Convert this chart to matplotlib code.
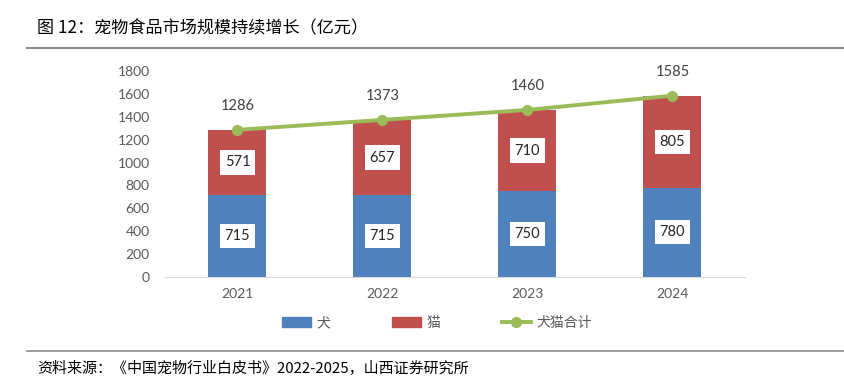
import matplotlib
matplotlib.use("Agg")
import matplotlib.pyplot as plt
from matplotlib.lines import Line2D
from matplotlib.patches import Patch

plt.rcParams['font.family'] = ['Noto Sans CJK SC', 'DejaVu Sans']

years = ['2021', '2022', '2023', '2024']
dog = [715, 715, 750, 780]
cat = [571, 657, 710, 805]
total = [1286, 1373, 1460, 1585]
yticks = [0, 200, 400, 600, 800, 1000, 1200, 1400, 1600, 1800]

blue = '#4F81BD'
red = '#C0504D'
green = '#9BBB59'
tickc = '#595959'
numfont = ['Lato', 'DejaVu Sans']

fig = plt.figure(figsize=(8.45, 3.89), dpi=100)
ax = fig.add_axes([165/845, 1-277/389, 580/845, (277-71)/389])

x = list(range(len(years)))
ax.bar(x, dog, width=0.4, color=blue, zorder=2)
ax.bar(x, cat, width=0.4, bottom=dog, color=red, zorder=2)
ax.plot(x, total, color=green, lw=2.8, marker='o', ms=7, zorder=3)

for i in x:
    ax.text(i, dog[i]/2, str(dog[i]), ha='center', va='center', fontsize=10.5, color='#262626',
            family=numfont,
            bbox=dict(boxstyle='square,pad=0.35', fc='white', ec='none'), zorder=4)
    ax.text(i, dog[i] + cat[i]/2, str(cat[i]), ha='center', va='center', fontsize=10.5, color='#262626',
            family=numfont,
            bbox=dict(boxstyle='square,pad=0.35', fc='white', ec='none'), zorder=4)
    ax.annotate(str(total[i]), (i, total[i]), xytext=(0, 12), textcoords='offset points',
                ha='center', va='bottom', fontsize=10.5, color='#404040', family=numfont)

ax.set_xlim(-0.5, 3.5)
ax.set_ylim(0, 1800)
ax.set_yticks(yticks)
ax.set_xticks(x)
ax.set_xticklabels(years)
ax.tick_params(axis='both', length=0, labelsize=10, colors=tickc)
for lab in ax.get_xticklabels() + ax.get_yticklabels():
    lab.set_family(numfont)
ax.tick_params(axis='y', pad=11)
ax.tick_params(axis='x', pad=8)
for s in ['top', 'right', 'left']:
    ax.spines[s].set_visible(False)
ax.spines['bottom'].set_color('#D9D9D9')

handles = [Patch(color=blue, label='犬'), Patch(color=red, label='猫'),
           Line2D([0], [0], color=green, lw=2.8, marker='o', ms=7, label='犬猫合计')]
fig.legend(handles=handles, loc='center', bbox_to_anchor=(437/845, 1-323/389), ncol=3,
           frameon=False, fontsize=10, handlelength=2.1, columnspacing=4.4,
           handletextpad=0.4, labelcolor='#595959')

fig.text(37/845, 1-28/389, '图 12：宠物食品市场规模持续增长（亿元）', fontsize=12.3,
         ha='left', va='center', color='black')
fig.add_artist(Line2D([27/845, 1], [1-48/389, 1-48/389], color='#8C8C8C', lw=1.5))
fig.add_artist(Line2D([27/845, 1], [1-351/389, 1-351/389], color='#8C8C8C', lw=1.2))
fig.text(37/845, 1-369/389, '资料来源：《中国宠物行业白皮书》2022-2025，山西证券研究所', fontsize=10.8,
         ha='left', va='center', color='black')

fig.savefig('out.png', dpi=100)
